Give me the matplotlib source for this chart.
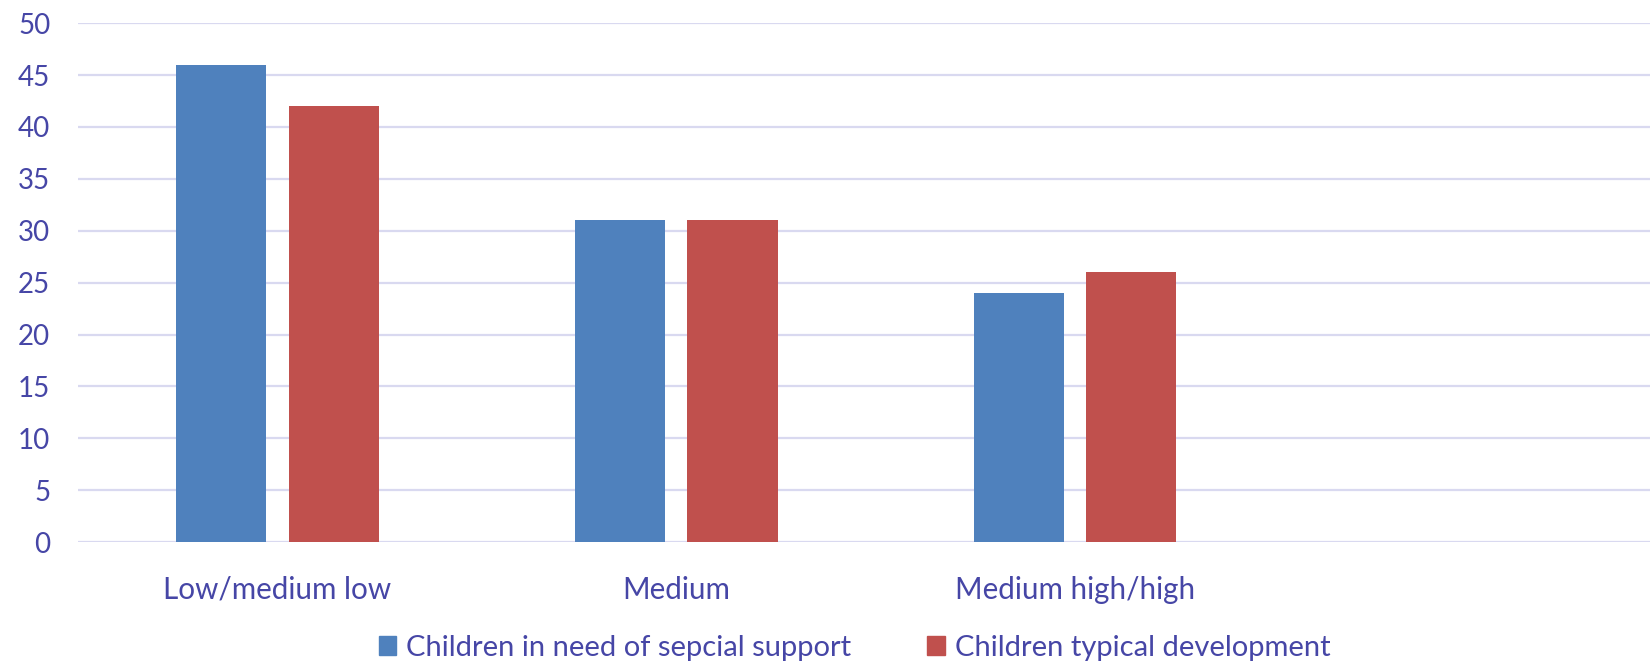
import matplotlib
matplotlib.use("Agg")
import matplotlib.pyplot as plt
import numpy as np
from matplotlib.patches import Patch

categories = ["Low/medium low", "Medium", "Medium high/high"]
special_support = [46, 31, 24]
typical_dev = [42, 31, 26]
series_names = ["Children in need of sepcial support", "Children typical development"]
yticks = [0, 5, 10, 15, 20, 25, 30, 35, 40, 45, 50]

plt.rcParams['font.family'] = ['Lato', 'DejaVu Sans']
txt = '#4646A6'
blue = '#4F81BD'
red = '#C0504D'

fig = plt.figure(figsize=(16.5, 6.62), dpi=100)
ax = fig.add_axes([0.0473, 0.181, 0.9668, 0.784])

x = np.arange(len(categories))
w = 0.226
off = 0.141
ax.bar(x - off, special_support, w, color=blue, zorder=3)
ax.bar(x + off, typical_dev, w, color=red, zorder=3)

ax.set_xlim(-0.5, 3.5)
ax.set_ylim(0, 50)
ax.set_yticks(yticks)
ax.set_yticklabels([str(v) for v in yticks], color=txt, fontsize=20)
ax.set_xticks(x)
ax.set_xticklabels(categories, color=txt, fontsize=21.3)
ax.tick_params(axis='both', length=0)
ax.tick_params(axis='y', pad=20)
ax.tick_params(axis='x', pad=24)
ax.grid(axis='y', color='#D9D9F0', linewidth=1.6, zorder=0)
for s in ax.spines.values():
    s.set_visible(False)

handles = [Patch(color=blue), Patch(color=red)]
leg = fig.legend(handles, series_names, loc='lower center', ncol=2, frameon=False,
                 fontsize=21, bbox_to_anchor=(0.518, -0.038), handlelength=0.6,
                 handleheight=0.6, handletextpad=0.35, columnspacing=2.6)
for t in leg.get_texts():
    t.set_color(txt)

fig.savefig("out.png", dpi=100)
